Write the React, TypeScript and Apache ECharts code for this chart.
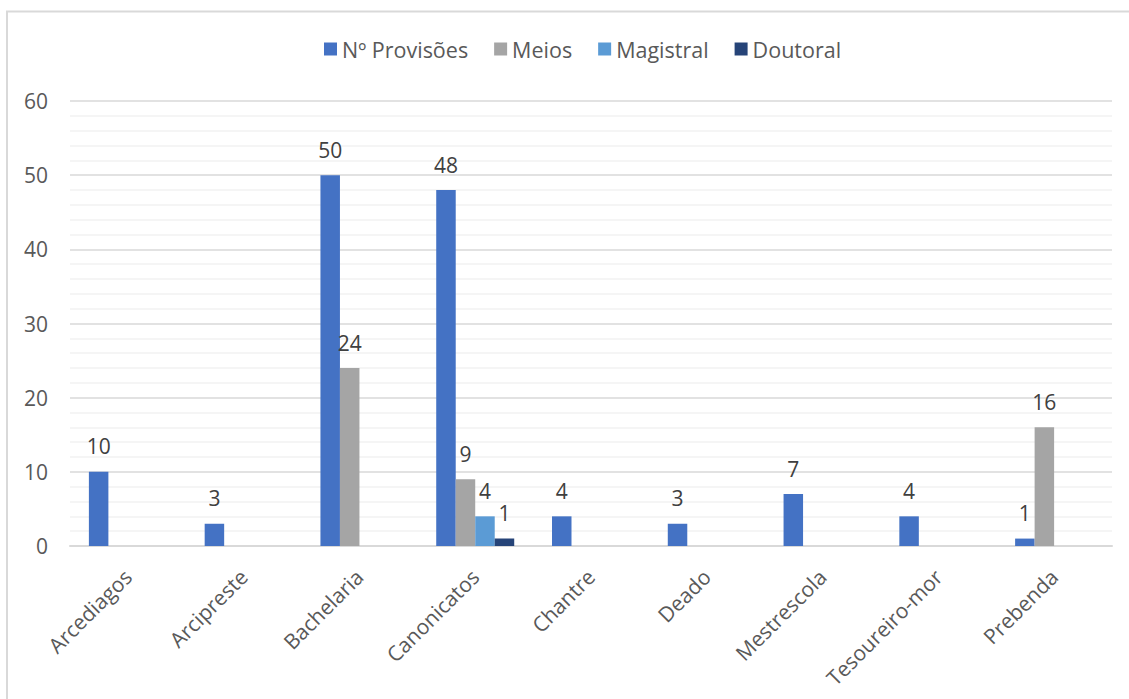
import React, { useEffect, useRef } from "react";
import * as echarts from "echarts";

const categories = [
  "Arcediagos",
  "Arcipreste",
  "Bachelaria",
  "Canonicatos",
  "Chantre",
  "Deado",
  "Mestrescola",
  "Tesoureiro-mor",
  "Prebenda",
];
const provisoes = [10, 3, 50, 48, 4, 3, 7, 4, 1];
const meios = [0, 0, 24, 9, 0, 0, 0, 0, 16];
const magistral = [0, 0, 0, 4, 0, 0, 0, 0, 0];
const doutoral = [0, 0, 0, 1, 0, 0, 0, 0, 0];

const seriesNames = ["Nº Provisões", "Meios", "Magistral", "Doutoral"];
const seriesColors = ["#4472C4", "#A5A5A5", "#5B9BD5", "#264478"];
const seriesData = [provisoes, meios, magistral, doutoral];

const FONT = "'Open Sans', sans-serif";
const TEXT = "#595959";

export default function App() {
  const ref = useRef<HTMLDivElement>(null);
  useEffect(() => {
    if (!ref.current) return;
    const chart = echarts.init(ref.current, undefined, { renderer: "svg" });
    chart.setOption({
      animation: false,
      backgroundColor: "#ffffff",
      textStyle: { fontFamily: FONT },
      legend: {
        top: 33,
        left: 319,
        itemWidth: 13,
        itemHeight: 13,
        itemGap: 26,
        icon: "rect",
        textStyle: { fontFamily: FONT, fontSize: 21.5, color: TEXT },
        data: seriesNames,
      },
      grid: { left: 70, right: 17, top: 101, bottom: 153, containLabel: false },
      xAxis: {
        type: "category",
        data: categories,
        axisLine: { lineStyle: { color: "#D9D9D9", width: 2 } },
        axisTick: { show: false },
        axisLabel: {
          rotate: 45,
          interval: 0,
          fontFamily: FONT,
          fontSize: 21,
          color: TEXT,
          margin: 27,
        },
      },
      yAxis: {
        type: "value",
        min: 0,
        max: 60,
        interval: 10,
        axisLine: { show: false },
        axisTick: { show: false },
        axisLabel: { fontFamily: FONT, fontSize: 21, color: TEXT, margin: 22 },
        splitLine: { lineStyle: { color: "#D9D9D9", width: 1.5 } },
        minorTick: { show: false, splitNumber: 5 },
        minorSplitLine: { show: true, lineStyle: { color: "#F2F2F2", width: 1.5 } },
      },
      series: seriesNames.map((name, i) => ({
        name,
        type: "bar",
        data: seriesData[i],
        barWidth: 19.5,
        barGap: "0%",
        itemStyle: { color: seriesColors[i] },
        label: {
          show: true,
          position: "top",
          distance: 15,
          fontFamily: FONT,
          fontSize: 21,
          color: "#404040",
          formatter: (p: any) => (p.value === 0 ? "" : String(p.value)),
        },
      })),
      graphic: [
        {
          type: "rect",
          silent: true,
          shape: { x: 7, y: 11.5, width: 1140, height: 720 },
          style: { fill: "none", stroke: "#D9D9D9", lineWidth: 2 },
        },
      ],
    });
    return () => chart.dispose();
  }, []);
  return (
    <div
      ref={ref}
      style={{ position: "fixed", left: 0, top: 0, width: 1129, height: 699 }}
    />
  );
}
